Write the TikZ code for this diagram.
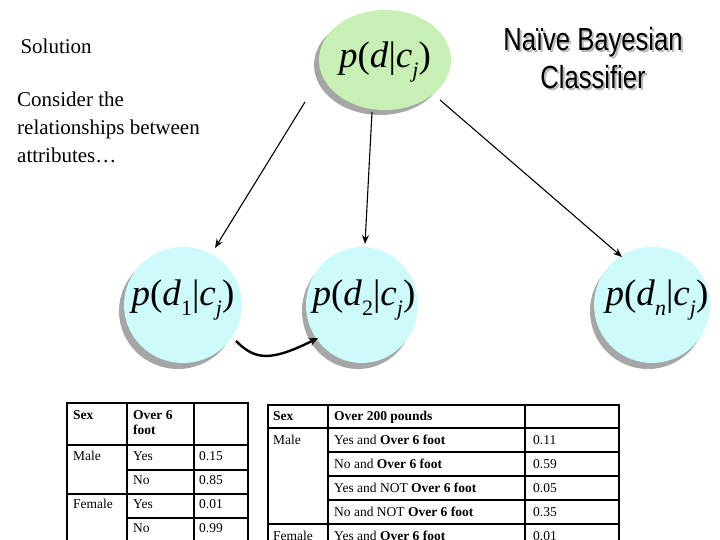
\documentclass[tikz,border=0pt]{standalone}
\usepackage{fontspec}
\setmainfont{Liberation Serif}
\newfontfamily\arialf{Liberation Sans}
\usetikzlibrary{arrows.meta}
\newcommand{\pr}[2]{\fontsize{37}{39}\selectfont\textit{p}(\textit{d}\raisebox{-0.25em}{\fontsize{22}{22}\selectfont #1}|\textit{c}\raisebox{-0.25em}{\fontsize{22}{22}\selectfont\textit{j}})}
\begin{document}
\begin{tikzpicture}[x=1pt,y=-1pt,
  shad/.style={fill=gray!70},
  arr/.style={-{Stealth[length=9pt,width=7pt]},line width=1.1pt},
  cell/.style={font=\fontsize{13.5}{15}\selectfont,anchor=north west,inner sep=0pt,align=left},
  thick/.style={line width=1.8pt},
  thin/.style={line width=1.3pt}]
\useasboundingbox (0,0) rectangle (720,540);
% shadows
\fill[shad] (380,65) ellipse (66 and 50);
\fill[shad] (178,311) ellipse (59 and 58);
\fill[shad] (358,311) ellipse (56 and 58);
\fill[shad] (648,311) ellipse (58 and 58);
\fill[fill={rgb,255:red,200;green,240;blue,180}] (385,60) ellipse (66 and 50);
\fill[fill={rgb,255:red,205;green,250;blue,250}] (183,305) ellipse (59 and 58);
\fill[fill={rgb,255:red,205;green,250;blue,250}] (362,305) ellipse (56 and 58);
\fill[fill={rgb,255:red,205;green,250;blue,250}] (652,305) ellipse (58 and 58);
\node (top) at (385,62) {\pr{}{}};
\node (d1) at (183,300) {\pr{1}{}};
\node (d2) at (364,300) {\pr{2}{}};
\node (dn) at (657,300) {\pr{\textit{n}}{}};
\coordinate (t1) at (305,102); \coordinate (h1) at (215,248);
\coordinate (t2) at (372,112); \coordinate (h2) at (365,244);
\coordinate (t3) at (440,100); \coordinate (h3) at (622,257);
\draw[arr] (t1) -- (h1);
\draw[arr] (t2) -- (h2);
\draw[arr] (t3) -- (h3);
\coordinate (c1) at (236,341); \coordinate (c2) at (318,338);
\draw[-{Stealth[length=9pt,width=8pt]},line width=2.4pt] (c1) .. controls (255,360) and (270,362) .. (c2);
\node[anchor=west,font=\fontsize{21}{24}\selectfont] (sol) at (17,46) {Solution};
\node[anchor=north west,align=left,inner sep=0pt,font=\fontsize{21}{28}\selectfont] (cons) at (17,92) {Consider the\\relationships between\\attributes\dots};
\node[align=center,text=gray!55,font=\arialf\fontsize{32}{38}\selectfont] at (595,60) {\scalebox{0.8}[1]{Naïve Bayesian}\\\scalebox{0.8}[1]{Classifier}};
\node[align=center,font=\arialf\fontsize{32}{38}\selectfont] (title) at (593,58) {\scalebox{0.8}[1]{Naïve Bayesian}\\\scalebox{0.8}[1]{Classifier}};
% left table
\draw[thick] (67,540) -- (67,403) -- (248,403) -- (248,540);
\draw[thin] (127,403) -- (127,540); \draw[thin] (194,403) -- (194,540);
\draw[thick] (67,445) -- (248,445);
\draw[thin] (127,470) -- (248,470);
\draw[thick] (67,494) -- (248,494);
\draw[thin] (127,518) -- (248,518);
\node[cell] at (73,410) {\textbf{Sex}};
\node[cell] at (133,410) {\textbf{Over 6}\\\textbf{foot}};
\node[cell] at (73,451) {Male};
\node[cell] at (133,451) {Yes}; \node[cell] at (199,451) {0.15};
\node[cell] at (133,475) {No}; \node[cell] at (199,475) {0.85};
\node[cell] at (73,499) {Female};
\node[cell] at (133,499) {Yes}; \node[cell] at (199,499) {0.01};
\node[cell] at (133,523) {No}; \node[cell] at (199,523) {0.99};
% right table
\draw[thick] (268,540) -- (268,405) -- (619,405) -- (619,540);
\draw[thin] (328,405) -- (328,540); \draw[thin] (525,405) -- (525,540);
\draw[thick] (268,428) -- (619,428);
\draw[thin] (328,452) -- (619,452);
\draw[thin] (328,476) -- (619,476);
\draw[thin] (328,500) -- (619,500);
\draw[thick] (268,524) -- (619,524);
\node[cell] at (273,411) {\textbf{Sex}};
\node[cell] at (334,411) {\textbf{Over 200 pounds}};
\node[cell] at (273,435) {Male};
\node[cell] at (334,435) {Yes and \textbf{Over 6 foot}}; \node[cell] at (533,435) {0.11};
\node[cell] at (334,459) {No and \textbf{Over 6 foot}}; \node[cell] at (533,459) {0.59};
\node[cell] at (334,483) {Yes and NOT \textbf{Over 6 foot}}; \node[cell] at (533,483) {0.05};
\node[cell] at (334,507) {No and NOT \textbf{Over 6 foot}}; \node[cell] at (533,507) {0.35};
\node[cell] at (273,531) {Female};
\node[cell] at (334,531) {Yes and \textbf{Over 6 foot}}; \node[cell] at (533,531) {0.01};
\end{tikzpicture}
\end{document}
